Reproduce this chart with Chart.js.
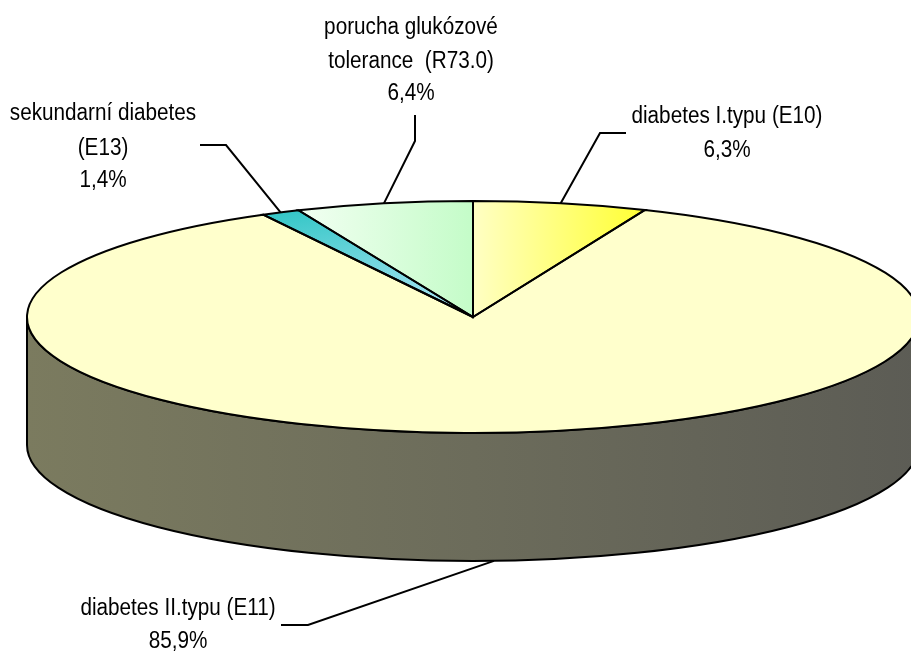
<!DOCTYPE html>
<html>
<head>
<meta charset="utf-8">
<script src="https://cdn.jsdelivr.net/npm/chart.js@4/dist/chart.umd.min.js"></script>
<style>
  html, body { margin: 0; padding: 0; background: #fff; }
  canvas { display: block; }
</style>
</head>
<body>
<canvas id="chart" width="911" height="653"></canvas>
<script>
// data
const categories = ['diabetes I.typu (E10)', 'diabetes II.typu (E11)', 'sekundarní diabetes (E13)', 'porucha glukózové tolerance (R73.0)'];
const shares = [6.3, 85.9, 1.4, 6.4];
const labelTexts = [
  ['diabetes I.typu (E10)'],
  ['diabetes II.typu (E11)'],
  ['sekundarní diabetes', '(E13)'],
  ['porucha glukózové', 'tolerance  (R73.0)']
];

// 3D look of the pie (screen space)
const CX = 473, CY = 317, RX = 446, RY = 116, DEPTH = 128;

// where each label sits and how its leader line bends
const labelPos = [
  { x: 727, y: [123, 157], path: [[600, 133], [626, 133]] },
  { x: 178, y: [615, 648], path: [[308, 625], [281, 625]] },
  { x: 103, y: [120, 155, 187], path: [[226, 145], [200, 145]] },
  { x: 411, y: [34, 68, 100], path: [[415, 141], [415, 115]] }
];

function pctText(v) {
  return v.toFixed(1).replace('.', ',') + '%';
}

// screen point -> chart point (before the 3D transform)
function toChart(chart, sx, sy) {
  const a = chart.chartArea;
  const ox = (a.left + a.right) / 2, oy = (a.top + a.bottom) / 2;
  const r = Math.min(a.right - a.left, a.bottom - a.top) / 2;
  return [ox + (sx - CX) * r / RX, oy + (sy - CY) * r / RY];
}

function sliceFill(context) {
  const chart = context.chart;
  if (!chart.chartArea) return '#FFFFCC';
  const ctx = chart.ctx;
  const i = context.dataIndex;
  let g, p, q;
  if (i === 0) {
    p = toChart(chart, 473, 250); q = toChart(chart, 650, 250);
    g = ctx.createLinearGradient(p[0], p[1], q[0], q[1]);
    g.addColorStop(0, '#FFFFC4');
    g.addColorStop(1, '#FFFF2E');
    return g;
  }
  if (i === 2) {
    p = toChart(chart, 268, 212); q = toChart(chart, 462, 314);
    g = ctx.createLinearGradient(p[0], p[1], q[0], q[1]);
    g.addColorStop(0, '#33C6C6');
    g.addColorStop(1, '#B0E6F6');
    return g;
  }
  if (i === 3) {
    p = toChart(chart, 300, 250); q = toChart(chart, 473, 250);
    g = ctx.createLinearGradient(p[0], p[1], q[0], q[1]);
    g.addColorStop(0, '#F2FFF2');
    g.addColorStop(1, '#C4FCC8');
    return g;
  }
  return '#FFFFCC';
}

const pie3d = {
  id: 'pie3d',
  beforeDatasetsDraw(chart) {
    const ctx = chart.ctx;
    const arcs = chart.getDatasetMeta(0).data;
    // side wall, only for the front half
    arcs.forEach(arc => {
      for (let k = -1; k <= 1; k++) {
        const a = Math.max(arc.startAngle, k * 2 * Math.PI);
        const b = Math.min(arc.endAngle, k * 2 * Math.PI + Math.PI);
        if (b <= a) continue;
        const g = ctx.createLinearGradient(CX - RX, 0, CX + RX, 0);
        g.addColorStop(0, '#7B7B5F');
        g.addColorStop(0.5, '#6C6C5B');
        g.addColorStop(1, '#5C5C55');
        ctx.beginPath();
        ctx.ellipse(CX, CY, RX, RY, 0, a, b);
        ctx.ellipse(CX, CY + DEPTH, RX, RY, 0, b, a, true);
        ctx.closePath();
        ctx.fillStyle = g;
        ctx.fill();
        ctx.lineWidth = 2;
        ctx.strokeStyle = '#000';
        ctx.stroke();
      }
    });
    const arc0 = arcs[0];
    ctx.save();
    ctx.translate(CX, CY);
    ctx.scale(RX / arc0.outerRadius, RY / arc0.outerRadius);
    ctx.translate(-arc0.x, -arc0.y);
  },
  afterDatasetsDraw(chart) {
    const ctx = chart.ctx;
    ctx.restore();
    const arcs = chart.getDatasetMeta(0).data;
    // outlines of the top face
    ctx.lineWidth = 2;
    ctx.strokeStyle = '#000';
    arcs.forEach(arc => {
      ctx.beginPath();
      ctx.moveTo(CX, CY);
      ctx.ellipse(CX, CY, RX, RY, 0, arc.startAngle, arc.endAngle);
      ctx.closePath();
      ctx.stroke();
    });
    // leader lines and labels
    ctx.lineWidth = 2;
    arcs.forEach((arc, i) => {
      const m = (arc.startAngle + arc.endAngle) / 2;
      let ax = CX + RX * Math.cos(m), ay = CY + RY * Math.sin(m);
      if (Math.sin(m) > 0.3) ay += DEPTH;
      const lp = labelPos[i];
      ctx.beginPath();
      ctx.moveTo(ax, ay);
      lp.path.forEach(pt => ctx.lineTo(pt[0], pt[1]));
      ctx.stroke();
      const lines = labelTexts[i].concat([pctText(shares[i])]);
      ctx.fillStyle = '#000';
      ctx.font = '23px "Liberation Sans", Arial, sans-serif';
      ctx.textAlign = 'center';
      ctx.textBaseline = 'alphabetic';
      lines.forEach((t, j) => {
        ctx.save();
        ctx.translate(lp.x, lp.y[j]);
        ctx.scale(0.9, 1);
        ctx.fillText(t, 0, 0);
        ctx.restore();
      });
    });
  }
};

new Chart(document.getElementById('chart'), {
  type: 'pie',
  data: {
    labels: categories,
    datasets: [{
      data: shares,
      backgroundColor: sliceFill,
      borderWidth: 0
    }]
  },
  options: {
    responsive: false,
    animation: false,
    layout: { padding: 0 },
    plugins: {
      legend: { display: false },
      tooltip: { enabled: false }
    }
  },
  plugins: [pie3d]
});
</script>
</body>
</html>
